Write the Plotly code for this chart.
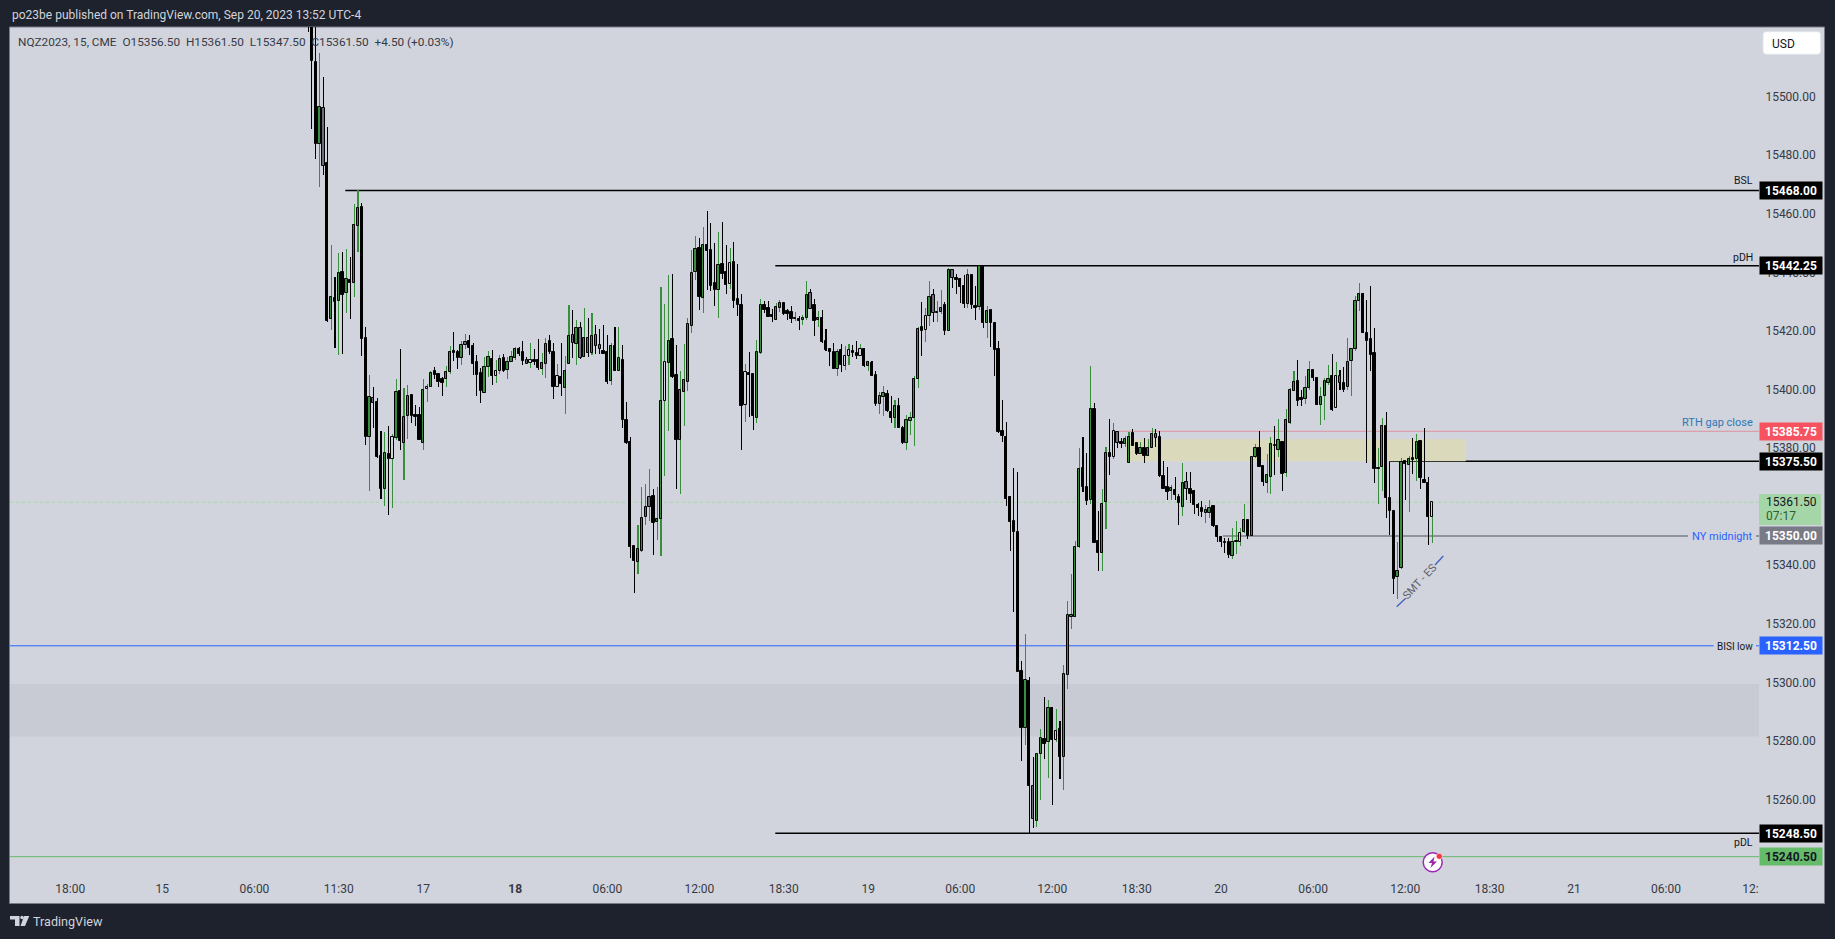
import plotly.graph_objects as go

# ---------- candle data (15-minute NQZ2023) ----------
opens = [
15540,15535,15512,15483.8,15496,15477.2,15424,15431.2,15430.4,15440,
15433.1,15437.3,15436.5,15455.7,15462.2,15417.5,15383.7,15397,15395.7,15377.3,
15365.9,15378,15376.4,15383.6,15399.5,15381.9,15391.1,15398,15391.2,15391.2,
15381.9,15400.1,15401,15406.2,15405.2,15403.5,15403.5,15406.1,15413,15412.8,
15410.9,15415.3,15416.5,15414.9,15409.4,15405.6,15398.9,15407.8,15410.3,15404.8,
15406.5,15410.7,15406.7,15409.5,15410.9,15413.8,15412.7,15410,15409.2,15410,
15410,15407,15408.9,15416.6,15412.8,15401,15404.3,15400.7,15408.6,15418.5,
15415.7,15420.9,15411,15417.5,15412.6,15418.5,15415.1,15413.3,15412.8,15402.9,
15414.9,15406.5,15410,15389.5,15382,15346.5,15341,15344.8,15356.6,15360,
15363.6,15354.9,15355.7,15396.2,15409,15417.2,15404.9,15382.9,15399.3,15402.7,
15421.8,15440.3,15448.2,15431.4,15449.3,15447.7,15436.3,15434,15442.9,15440,
15436.1,15443.5,15430.8,15428.8,15394.9,15405.5,15405.2,15390.4,15412.6,15428.8,
15427.8,15425.4,15423.8,15428,15429.7,15426.8,15426.5,15424,15424,15423.8,
15424.6,15432.9,15428.8,15423.8,15424.3,15416.5,15413.9,15412.8,15407,15413.4,
15408.2,15411.6,15413.1,15412.4,15411.6,15413.9,15408.2,15409,15405,15395.1,
15397.6,15398.5,15392.4,15390.4,15394.4,15386.9,15381.9,15389.4,15390.4,15403.5,
15421.3,15420.2,15425,15432.2,15426.3,15426.6,15428.8,15420.1,15440.7,15438.1,
15437.6,15435.4,15429.3,15439,15428.5,15428.3,15442,15422.6,15427.2,15422.6,
15413.8,15385.8,15383.7,15363.2,15355.1,15351.3,15303.8,15284.6,15300.5,15264.5,
15252.8,15275.5,15280.6,15279.8,15291.2,15280.4,15284,15274.7,15302.7,15323,
15322.5,15346.4,15373.1,15366.6,15362.3,15393.4,15348.3,15344.3,15361.5,15378.2,
15377.1,15385.5,15382,15381.5,15375,15385.1,15381.6,15378,15380,15377.3,
15380,15384.9,15383.7,15370.5,15366.6,15365.2,15365.7,15363.3,15360,15368.5,
15366,15365.4,15360.6,15359.7,15358,15358,15360.3,15353.5,15349.8,15348,
15347.8,15343.3,15347.8,15347.8,15351.2,15355.5,15350.1,15377.1,15380,15373.9,
15368,15370,15381.1,15379.3,15382,15371.6,15388.5,15399.6,15403,15397,
15396.8,15400.7,15406.7,15403.9,15394.9,15397.9,15402.4,15404.7,15393.6,15404.7,
15402.4,15400.8,15409.9,15413.7,15430.4,15432.5,15419.2,15417.2,15412.4,15372.8,
15373.5,15387.5,15363.1,15358.7,15336.1,15339,15375.6,15374.4,15376.5,15376.3,
15382.5,15369.1,15368,15356.5]
highs = [
15545,15540,15530,15514.8,15506.6,15489.5,15449.4,15438.3,15446.5,15447,
15447.9,15445.4,15463.4,15468,15463.6,15421.4,15405,15400.9,15397,15385.9,
15385.5,15387.6,15384.8,15403.5,15413.9,15400.4,15401.6,15398,15394.7,15393.9,
15403.5,15401.9,15406.3,15407.7,15405.3,15404.3,15408,15414.9,15419.7,15413.5,
15416.5,15419,15418.6,15415.8,15411.7,15407.5,15411.1,15413.1,15413.5,15410,
15411.7,15412.2,15411,15413,15414.4,15414.7,15416.6,15411.2,15415.9,15413.9,
15417.3,15412.4,15417.6,15418.6,15415.8,15408.7,15415.9,15411.3,15428.8,15427.2,
15423.8,15423.2,15427.9,15424.3,15426,15422.1,15420.7,15422.1,15418.6,15415.8,
15421.5,15421.4,15415.2,15395.8,15383.9,15346.7,15353.8,15366.9,15367.8,15372.9,
15366.1,15366.7,15435,15429.2,15439.1,15439.5,15415.2,15406.3,15415.6,15424.3,
15447.7,15452.4,15451.6,15455.6,15460.9,15456.8,15450,15453.9,15457.1,15449.4,
15448.2,15450.4,15442.9,15432.5,15408.7,15412.8,15405.3,15416.9,15430.8,15430.4,
15430.1,15427.5,15429.6,15430.6,15430,15427.4,15428.4,15426.6,15425,15425.5,
15437,15434.2,15430.8,15426.8,15427.2,15420.6,15414.2,15415.8,15413.8,15415.5,
15414.9,15415.5,15415.2,15416.6,15415.6,15414.1,15409.9,15409.8,15406.5,15399.2,
15401.3,15399.9,15397.8,15396.5,15397,15387.4,15391.3,15392.4,15404.6,15421.3,
15429.9,15427.7,15437,15434.2,15430.3,15434,15429.8,15441.4,15441.1,15439.4,
15438.2,15439,15441.2,15439.2,15435.4,15442.25,15442.25,15428.4,15427.4,15422.6,
15416.5,15396.5,15388.8,15363.5,15373.1,15371.7,15307.3,15316.6,15301.9,15274.5,
15275.8,15284,15294.9,15294,15291.7,15290.9,15286.7,15306,15327.8,15337,
15348.3,15380,15383.8,15378.2,15408.1,15395.3,15358.6,15366.1,15380.3,15389.9,
15388.5,15386,15383.4,15384.2,15385.5,15386.4,15381.7,15382.2,15383.4,15383,
15386.8,15386.6,15385.8,15375.5,15373.7,15367.4,15370.3,15364.4,15375,15372,
15371.9,15365.7,15361.4,15362.1,15360.6,15362.3,15360.6,15353.5,15350,15349.2,
15349.2,15352.9,15355.1,15352.9,15360.9,15355.7,15376.9,15381.4,15385.9,15374,
15378,15383.7,15387.6,15389.9,15382.3,15393.3,15400.4,15406.4,15410.1,15399.9,
15404.6,15409.8,15406.7,15404,15401,15403.8,15408.4,15412,15409.5,15406.7,
15407.8,15417.5,15414.1,15431.9,15436.3,15433.1,15430.6,15435.4,15420.9,15380,
15390.2,15392.2,15375.4,15358.9,15348,15376.5,15375.6,15377.3,15383.4,15384.8,
15382.5,15386.8,15370,15361.5]
lows = [
15522,15489,15478.6,15469.3,15473.4,15423,15420.3,15414.3,15411.9,15412.3,
15426,15424.1,15431.5,15447.1,15411.6,15381.1,15365.2,15386.8,15376.8,15362.6,
15360.4,15357,15359.7,15382.8,15379.4,15369.1,15383.1,15388.7,15387.6,15382.8,
15379.4,15395.8,15401,15403.6,15401,15397.8,15401,15405.3,15409.9,15407,
15408.4,15413.9,15411.8,15404.9,15397.8,15395.5,15398.7,15404.2,15401.7,15402.1,
15405.3,15406,15403.6,15409.4,15410.1,15411.3,15408.3,15408.7,15407.4,15408.3,
15406.7,15405,15404.1,15412.1,15396.8,15400.8,15397.8,15391.7,15408.6,15410.9,
15408.4,15410.4,15411,15411,15411.8,15412.2,15412.3,15412,15402,15401.6,
15406.5,15406.4,15386.8,15381.3,15342.6,15330.7,15337,15344.7,15353.9,15355,
15343.5,15348.7,15343,15370.6,15386,15404,15366.1,15364.5,15387.6,15399.6,
15419.4,15437.4,15427.2,15426.3,15434,15433.8,15428.5,15424.6,15437.6,15432.6,
15434.2,15427.7,15425.1,15379.2,15389,15390.5,15386.2,15388.7,15412.2,15426.3,
15424.9,15423.2,15423.8,15426.5,15425.4,15423.8,15422.7,15423.4,15420.3,15422.1,
15423.8,15427.4,15418.3,15421.3,15416,15413,15408.1,15406.9,15404.6,15406.1,
15406.7,15408.4,15411,15410.6,15411.3,15407.8,15406.4,15404.8,15394.5,15391.7,
15391,15392.5,15388.7,15386.9,15386.8,15381.5,15379.4,15384.5,15380.8,15400.7,
15411.5,15416.4,15421.7,15423.1,15423.1,15425.8,15418.7,15420.1,15434.6,15432.6,
15429.7,15428,15427.8,15427.4,15423.8,15427,15420.9,15417.7,15414.7,15404.6,
15385.1,15382.2,15360.1,15345,15324.2,15303.4,15273,15278.7,15248.5,15250.4,
15250.8,15259.7,15274,15267.5,15258,15279.8,15267.1,15263.1,15297.8,15318.4,
15322.5,15346,15365,15360.6,15361,15347.7,15338.1,15338.1,15352.4,15370.9,
15376.3,15380,15380,15380.5,15375,15380.7,15377.8,15378,15375,15377.3,
15380,15380.5,15370.3,15365.9,15362.3,15362.3,15362.3,15353.8,15356.9,15362.3,
15361.4,15357.5,15356.9,15356.6,15354.6,15356,15353.2,15347.8,15346.2,15344.3,
15342.6,15342.3,15343.9,15346.6,15351,15348.9,15350,15376.5,15373.5,15367.1,
15364.6,15364.4,15370.9,15377.1,15365.2,15370,15388.3,15399.4,15394.4,15394.4,
15395.1,15399.9,15403,15394.7,15388,15389.6,15401.4,15392.8,15393.6,15399.9,
15399.3,15400,15397.8,15413.3,15426.9,15419.2,15375,15406.5,15368.2,15360.9,
15365.5,15356,15350.3,15330.2,15328.6,15338.8,15362.3,15358.3,15371.2,15368.9,
15366.2,15368,15347,15347.5]
closes = [
15528,15512.3,15484,15496.4,15476.5,15423.5,15431.5,15430,15439.7,15432.3,
15437.6,15436.5,15456.1,15461.9,15417.2,15383.9,15397.4,15395.3,15377.1,15365.9,
15378.2,15376.2,15383.7,15399.1,15382.6,15390.5,15397.7,15391.1,15390.8,15382.8,
15399.8,15400.8,15405.6,15405.1,15402.6,15402.4,15405.9,15412.7,15412.4,15410.9,
15415.1,15416.1,15414.3,15408.7,15405,15399.5,15407.6,15411,15404.8,15406.2,
15410.3,15406.2,15409.5,15411,15413.8,15412.2,15409.8,15408.9,15410,15409.4,
15407.3,15409,15415.6,15412.8,15401,15404.5,15402,15406.2,15418.2,15416,
15420.9,15410.8,15417.5,15412.6,15418.2,15415,15413.9,15412.3,15402.6,15414.8,
15406.5,15410.7,15389.6,15381.9,15346.4,15341.3,15345.5,15356.1,15359.8,15363.4,
15354.6,15355.7,15396,15409.3,15416.5,15404.4,15382.9,15399.8,15403.2,15422.3,
15439.7,15447.9,15431.7,15449.3,15447.3,15435.4,15434,15442.4,15439.5,15435.7,
15443.1,15430.4,15428.9,15394.4,15405.9,15405.1,15391.1,15412.9,15428.8,15427.3,
15424.9,15424.9,15428.1,15429.5,15425.7,15425.9,15424.2,15424.3,15423.5,15424.3,
15432.3,15427.6,15423.5,15424.3,15416.2,15413.5,15412.8,15407,15412.8,15408.4,
15411.5,15413.4,15412.4,15411.6,15413.8,15408.1,15409.3,15404.8,15395.1,15397.7,
15398.7,15392.7,15390.4,15394.3,15386.9,15381.9,15389.5,15390.3,15403.5,15420.6,
15419.9,15425,15431.5,15426.3,15426.5,15427.8,15420.1,15440.7,15438,15437.4,
15435.1,15429.3,15439,15428.8,15428,15442.25,15422.9,15426.7,15422.6,15413.6,
15385.5,15384.3,15362.8,15354.9,15351.2,15303.4,15284.6,15300.7,15264.8,15253.3,
15275.5,15280.9,15279.1,15291.2,15280.4,15283.3,15274.7,15302.8,15322.9,15322.5,
15346.1,15372.8,15366.9,15362.1,15393.4,15347.7,15344.3,15361,15378.2,15377.1,
15385.8,15381.9,15381.5,15383,15383.7,15380.7,15378,15380,15377.3,15380,
15384.7,15383.5,15370.5,15366.2,15365,15366.4,15364,15361.2,15368,15366,
15364.5,15360.5,15359.7,15358.3,15358.8,15359.6,15353.5,15349.6,15347.8,15347.5,
15343.5,15348,15348.2,15350.9,15355.4,15350,15376.9,15380,15373.5,15368.6,
15370.7,15381.3,15380.7,15382.7,15371,15389.5,15399.9,15402.5,15396.2,15396.5,
15400.4,15406.7,15404.1,15394.9,15397.6,15402.9,15403.6,15393,15404.7,15402.4,
15399.9,15409.5,15413.7,15430.1,15432.5,15419.2,15416.7,15411.9,15372.8,15373.1,
15387.5,15363.1,15358.7,15335.4,15338.2,15375.4,15374.5,15376.4,15376,15382,
15369.7,15368,15356.6,15361.5]
# g green body, k black body, h hollow body, y grey body, z grey body with green wick
kinds = list(
    "kkkgykgkgk" "gkggkkgykk" "gkhgkggkkk" "ghgkkkggkk" "gzkkkkggkh" "gkgggkkyhk"
    "kggkkhkggy" "gygygyykkg" "kgkkkkgggz" "kgghgkkggg" "ggkgkkkgkk" "hkkkhkkggk"
    "kkggkkkgkg" "gykgkkkkgk" "hhkkhkgkkg" "gkkgkkgggg" "khgygzkgyk" "kkgkkgkgkk"
    "kkkkkkkgky" "ggkgkhkggg" "ggkkgkkggk" "hykggkkgkg" "gykkkgkkgy" "kkkkggkkkk"
    "kgghgkggkk" "ggkgkgggkk" "ggkkgggkhy" "kggggkkkkg" "gkkkggkgkg" "kkkh")
assert len(opens) == len(highs) == len(lows) == len(closes) == len(kinds)

# ---------- time axis ----------
tick_bars = [-62,-38,-14,8,30,54,78,102,124,146,170,194,216,238,262,286,308,330,354,376]
tick_labels = ["18:00","15","06:00","11:30","17","<b>18</b>","06:00","12:00","18:30","19",
               "06:00","12:00","18:30","20","06:00","12:00","18:30","21","06:00","12:"]

# ---------- price levels ----------
bsl, pdh, rth_gap, rth_line, midnight, bisi, pdl, green_lvl = 15468.00, 15442.25, 15385.75, 15375.50, 15350.00, 15312.50, 15248.50, 15240.50
last_price = 15361.50
band_prices = [15299.5, 15281.5]
zone_prices = [15383.0, 15375.5]
zone_bars = [213.2, 301.8]
level_tags = [(bsl, "#000000", "#ffffff"), (pdh, "#000000", "#ffffff"), (rth_gap, "#f7525f", "#ffffff"),
              (rth_line, "#000000", "#ffffff"), (midnight, "#787b86", "#ffffff"), (bisi, "#2962ff", "#ffffff"),
              (pdl, "#000000", "#ffffff"), (green_lvl, "#66bb6a", "#131722")]

# ---------- frame geometry (pixels of the 1835x939 page) ----------
W, H = 1835, 939
L, R, T, B = 10, 1759, 27, 876
BAR_STEP = 3.836
BAR0_PX = 327.3 - 5 * BAR_STEP
Y_TOP, Y_BOTTOM = 15523.8, 15233.9
FONT = "Roboto, sans-serif"

def px(x):
    return (x - L) / (R - L)
def py(y):
    return (B - y) / (B - T)
def bar_at(x):
    return (x - BAR0_PX) / BAR_STEP
def price_at(y):
    return Y_TOP - (y - T) / (B - T) * (Y_TOP - Y_BOTTOM)

xs = list(range(len(opens)))
GREEN, BLACK, GREY, HOLLOW = "#388e3c", "#000000", "#6a6d78", "#d1d4dc"
body_fill = {"g": GREEN, "k": BLACK, "h": HOLLOW, "y": GREY, "z": GREY}
wick_fill = {"g": GREEN, "k": BLACK, "h": GREEN, "y": BLACK, "z": GREEN}

fig = go.Figure()
fig.add_trace(go.Bar(x=xs, y=[h - l for h, l in zip(highs, lows)], base=lows, width=0.02,
                     marker=dict(color=[wick_fill[k] for k in kinds], line=dict(width=0)),
                     hoverinfo="skip", showlegend=False))
fig.add_trace(go.Bar(x=xs, y=[abs(c - o) for o, c in zip(opens, closes)],
                     base=[min(o, c) for o, c in zip(opens, closes)], width=0.6,
                     marker=dict(color=[body_fill[k] for k in kinds], line=dict(width=1, color="#000000")),
                     hoverinfo="skip", showlegend=False))

shapes = []
# light chart panel
shapes.append(dict(type="rect", layer="below", xref="paper", yref="paper", x0=px(9.5), x1=px(1824.5), y0=py(27), y1=py(903.5),
                   fillcolor="#d1d4dc", line=dict(color="#787b86", width=1)))
# grey band, yellow zone
shapes.append(dict(type="rect", layer="below", xref="paper", yref="y", x0=0, x1=1, y0=band_prices[1], y1=band_prices[0],
                   fillcolor="#c8cbd4", line=dict(width=0)))
shapes.append(dict(type="rect", layer="below", xref="x", yref="y", x0=zone_bars[0], x1=zone_bars[1], y0=zone_prices[1], y1=zone_prices[0],
                   fillcolor="#dbd9bb", line=dict(width=0)))

def hline(price, x0_px, x1_px, color, width=1, dash="solid"):
    shapes.append(dict(type="line", layer="below", xref="paper", yref="y", x0=px(x0_px), x1=px(x1_px), y0=price, y1=price,
                       line=dict(color=color, width=width, dash=dash)))

hline(last_price, 10, 1759, "#a5d6a7", 1, "dot")
hline(bsl, 345.3, 1759, "#000000", 1.5)
hline(pdh, 775.3, 1759, "#000000", 1.5)
hline(rth_gap, 1118, 1759, "#e0909f", 1)
hline(rth_line, 1389, 1759, "#000000", 1.5)
hline(midnight, 1223, 1688, "#787b86", 1.5)
hline(midnight, 1756, 1759, "#787b86", 1.5)
hline(bisi, 10, 1713.7, "#2962ff", 1)
hline(bisi, 1756, 1759, "#2962ff", 1)
hline(pdl, 775.3, 1759, "#000000", 1.5)
hline(green_lvl, 10, 1759, "#66bb6a", 1)

# SMT - ES diagonal
for (a, b, c, d) in [(1396.7, 606.7, 1405.7, 598.3), (1435, 565, 1443.3, 556)]:
    shapes.append(dict(type="line", layer="above", xref="x", yref="y", x0=bar_at(a), x1=bar_at(c),
                       y0=price_at(b), y1=price_at(d), line=dict(color="#3f5fbf", width=1.3)))

def pxpath(points, close=True):
    s = " ".join(("M" if i == 0 else "L") + f"{px(x):.6f},{py(y):.6f}" for i, (x, y) in enumerate(points))
    return s + (" Z" if close else "")

# current-price tag
shapes.append(dict(type="rect", layer="above", xref="paper", yref="paper", x0=px(1759), x1=px(1821), y0=py(494), y1=py(525),
                   fillcolor="#a5d6a7", line=dict(width=0)))
# USD button
x0b, x1b, y0b, y1b, r = 1763, 1820.7, 31.7, 54.3, 3
rounded = (f"M{px(x0b + r):.6f},{py(y0b):.6f} L{px(x1b - r):.6f},{py(y0b):.6f} Q{px(x1b):.6f},{py(y0b):.6f} {px(x1b):.6f},{py(y0b + r):.6f} "
           f"L{px(x1b):.6f},{py(y1b - r):.6f} Q{px(x1b):.6f},{py(y1b):.6f} {px(x1b - r):.6f},{py(y1b):.6f} "
           f"L{px(x0b + r):.6f},{py(y1b):.6f} Q{px(x0b):.6f},{py(y1b):.6f} {px(x0b):.6f},{py(y1b - r):.6f} "
           f"L{px(x0b):.6f},{py(y0b + r):.6f} Q{px(x0b):.6f},{py(y0b):.6f} {px(x0b + r):.6f},{py(y0b):.6f} Z")
shapes.append(dict(type="path", layer="above", xref="paper", yref="paper", path=rounded, fillcolor="#ffffff", line=dict(color="#e0e3eb", width=1)))
# TradingView logo
shapes.append(dict(type="path", layer="above", xref="paper", yref="paper",
                   path=pxpath([(10, 916), (19.5, 916), (19.5, 926), (15, 926), (15, 919.5), (10, 919.5)]), fillcolor="#d1d4dc", line=dict(width=0)))
shapes.append(dict(type="circle", layer="above", xref="paper", yref="paper", x0=px(20.3), x1=px(23.7), y0=py(919.2), y1=py(915.8), fillcolor="#d1d4dc", line=dict(width=0)))
shapes.append(dict(type="path", layer="above", xref="paper", yref="paper",
                   path=pxpath([(24, 916), (29.3, 916), (25, 926), (20.5, 926)]), fillcolor="#d1d4dc", line=dict(width=0)))
# lightning badge
shapes.append(dict(type="circle", layer="above", xref="paper", yref="paper", x0=px(1423.2), x1=px(1442.2), y0=py(871.8), y1=py(852.8),
                   fillcolor="#ffffff", line=dict(color="#9c27b0", width=1.5)))
shapes.append(dict(type="path", layer="above", xref="paper", yref="paper",
                   path=pxpath([(1434.5, 856.5), (1428.5, 863), (1432, 863), (1430.5, 868), (1437, 861.5), (1433.5, 861.5)]),
                   fillcolor="#9c27b0", line=dict(width=0)))
shapes.append(dict(type="circle", layer="above", xref="paper", yref="paper", x0=px(1436.3), x1=px(1442.3), y0=py(859.3), y1=py(853.3),
                   fillcolor="#f23645", line=dict(color="#ffffff", width=0.5)))

anns = []
def text(x, y, s, color, size=12, anchor="left", **kw):
    anns.append(dict(xref="paper", yref="paper", x=px(x), y=py(y), text=s, showarrow=False, xanchor=anchor, yanchor="middle",
                     font=dict(family=FONT, size=size, color=color), **kw))

text(10, 15, "po23be published on TradingView.com, Sep 20, 2023 13:52 UTC-4", "#d1d4dc", 12)
text(15.5, 41.7, "NQZ2023, 15, CME&nbsp;&nbsp;O15356.50&nbsp;&nbsp;H15361.50&nbsp;&nbsp;L15347.50&nbsp;&nbsp;C15361.50&nbsp;&nbsp;+4.50 (+0.03%)", "#363a45", 11.8)
text(1770, 43.5, "USD", "#131722", 12)
text(31, 921.5, "TradingView", "#d1d4dc", 12.6)
text(1754.5, 181, "BSL", "#131722", 10.5, "right")
text(1755, 257.7, "pDH", "#131722", 10.5, "right")
text(1754.5, 422.3, "RTH gap close", "#2f77b4", 11, "right")
text(1754.5, 536, "NY midnight", "#2962ff", 11, "right")
text(1755, 646.3, "BISI low", "#131722", 10, "right")
text(1755, 842, "pDL", "#131722", 10.5, "right")
text(1420, 581.7, "SMT - ES", "#5d606b", 11, "center", textangle=-47)
text(1764, 502.3, f"{last_price:.2f}", "#131722", 12)
text(1764, 516, "07:17", "#2c5e30", 12)
for price, bg, fg in level_tags:
    anns.append(dict(xref="paper", yref="y", x=px(1759), y=price, text=f"<b>{price:.2f}</b>", showarrow=False,
                     xanchor="left", yanchor="middle", width=62, height=17, bgcolor=bg, borderpad=0, align="center",
                     font=dict(family=FONT, size=12, color=fg)))

fig.update_layout(
    width=W, height=H, autosize=False,
    paper_bgcolor="#1e222d", plot_bgcolor="rgba(0,0,0,0)",
    margin=dict(l=L, r=W - R, t=T, b=H - B, autoexpand=False, pad=0),
    barmode="overlay", bargap=0, bargroupgap=0, showlegend=False, dragmode=False,
    shapes=shapes, annotations=anns,
    xaxis=dict(range=[bar_at(L), bar_at(R)], tickmode="array", tickvals=tick_bars, ticktext=tick_labels,
               showgrid=False, zeroline=False, showline=False, ticks="outside", ticklen=2, tickcolor="rgba(0,0,0,0)",
               tickangle=0, tickfont=dict(family=FONT, size=12, color="#363a45"), automargin=False),
    yaxis=dict(range=[Y_BOTTOM, Y_TOP], side="right", dtick=20, tick0=15500, tickformat=".2f",
               showgrid=False, zeroline=False, showline=False, ticks="outside", ticklen=3, tickcolor="rgba(0,0,0,0)",
               tickfont=dict(family=FONT, size=12, color="#363a45"), automargin=False),
)
fig.write_html("out.html", config=dict(displayModeBar=False, responsive=False),
               post_script="document.body.style.margin='0';document.body.style.overflow='hidden';")
